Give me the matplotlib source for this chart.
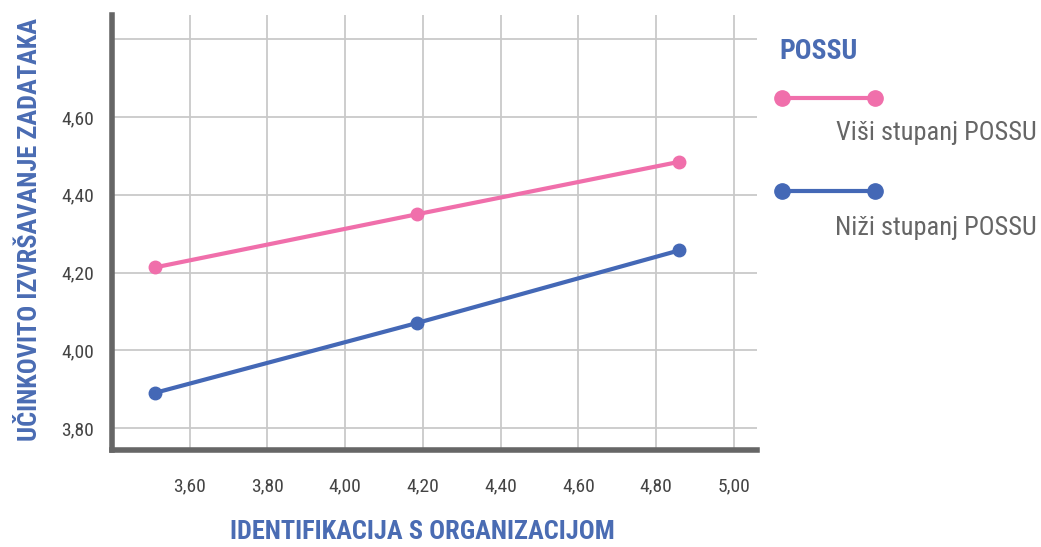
import matplotlib
matplotlib.use('Agg')
from matplotlib import pyplot as plt
from matplotlib import font_manager
from matplotlib.lines import Line2D

# x: identifikacija s organizacijom, y: ucinkovito izvrsavanje zadataka
x_vals = [3.51, 4.185, 4.86]
visi_possu = [4.213, 4.35, 4.485]
nizi_possu = [3.89, 4.07, 4.257]

x_ticks = [3.6, 3.8, 4.0, 4.2, 4.4, 4.6, 4.8, 5.0]
y_ticks = [3.8, 4.0, 4.2, 4.4, 4.6, 4.8]

pink = '#f06fab'
blue = '#4468b6'
label_blue = '#4a6cb3'
grey_text = '#666666'


def pick_font():
    names = {f.name for f in font_manager.fontManager.ttflist}
    for name in ['Roboto Condensed', 'Liberation Sans Narrow', 'DejaVu Sans']:
        if name in names:
            return name
    return 'DejaVu Sans'


def main():
    narrow = pick_font()
    plt.rcParams['font.family'] = [narrow, 'DejaVu Sans']

    fig = plt.figure(figsize=(10.41, 5.47), dpi=100)
    ax = fig.add_axes([0.1076, 0.1773, 0.6196, 0.7953])

    ax.plot(x_vals, visi_possu, color=pink, linewidth=3, marker='o',
            markersize=9, zorder=3)
    ax.plot(x_vals, nizi_possu, color=blue, linewidth=3, marker='o',
            markersize=9, zorder=3)

    ax.set_xlim(3.40, 5.06)
    ax.set_ylim(3.743, 4.863)
    ax.set_xticks(x_ticks)
    ax.set_yticks(y_ticks)
    ax.set_xticklabels([('%.2f' % v).replace('.', ',') for v in x_ticks])
    ax.set_yticklabels([('%.2f' % v).replace('.', ',') if v < 4.7 else ''
                        for v in y_ticks])
    ax.tick_params(length=0, labelsize=14, labelcolor='#444444')
    ax.tick_params(axis='x', pad=20)
    ax.tick_params(axis='y', pad=13)

    ax.grid(True, color='#c9c9c9', linewidth=1.3)
    ax.set_axisbelow(True)
    for s in ['top', 'right']:
        ax.spines[s].set_visible(False)
    for s in ['left', 'bottom']:
        ax.spines[s].set_color('#666666')
        ax.spines[s].set_linewidth(4)

    # axis titles
    fig.text(0.4055, 0.028, 'IDENTIFIKACIJA S ORGANIZACIJOM', fontsize=19,
             fontweight='bold', color=label_blue, ha='center', va='center')
    fig.text(0.029, 0.58, 'UČINKOVITO IZVRŠAVANJE ZADATAKA', fontsize=19,
             fontweight='bold', color=label_blue, ha='center', va='center',
             rotation=90)

    # legend drawn by hand on the right
    fig.text(0.749, 0.905, 'POSSU', fontsize=20, fontweight='bold',
             color=label_blue, va='center')
    for yl, ytxt, col, txt in [(0.821, 0.757, pink, 'Viši stupanj POSSU'),
                               (0.651, 0.583, blue, 'Niži stupanj POSSU')]:
        fig.add_artist(Line2D([0.7515, 0.8405], [yl, yl], color=col,
                              linewidth=3, marker='o', markersize=11,
                              transform=fig.transFigure))
        fig.text(0.996, ytxt, txt, fontsize=19, color=grey_text,
                 ha='right', va='center')

    fig.savefig('out.png', dpi=100)


if __name__ == '__main__':
    main()
